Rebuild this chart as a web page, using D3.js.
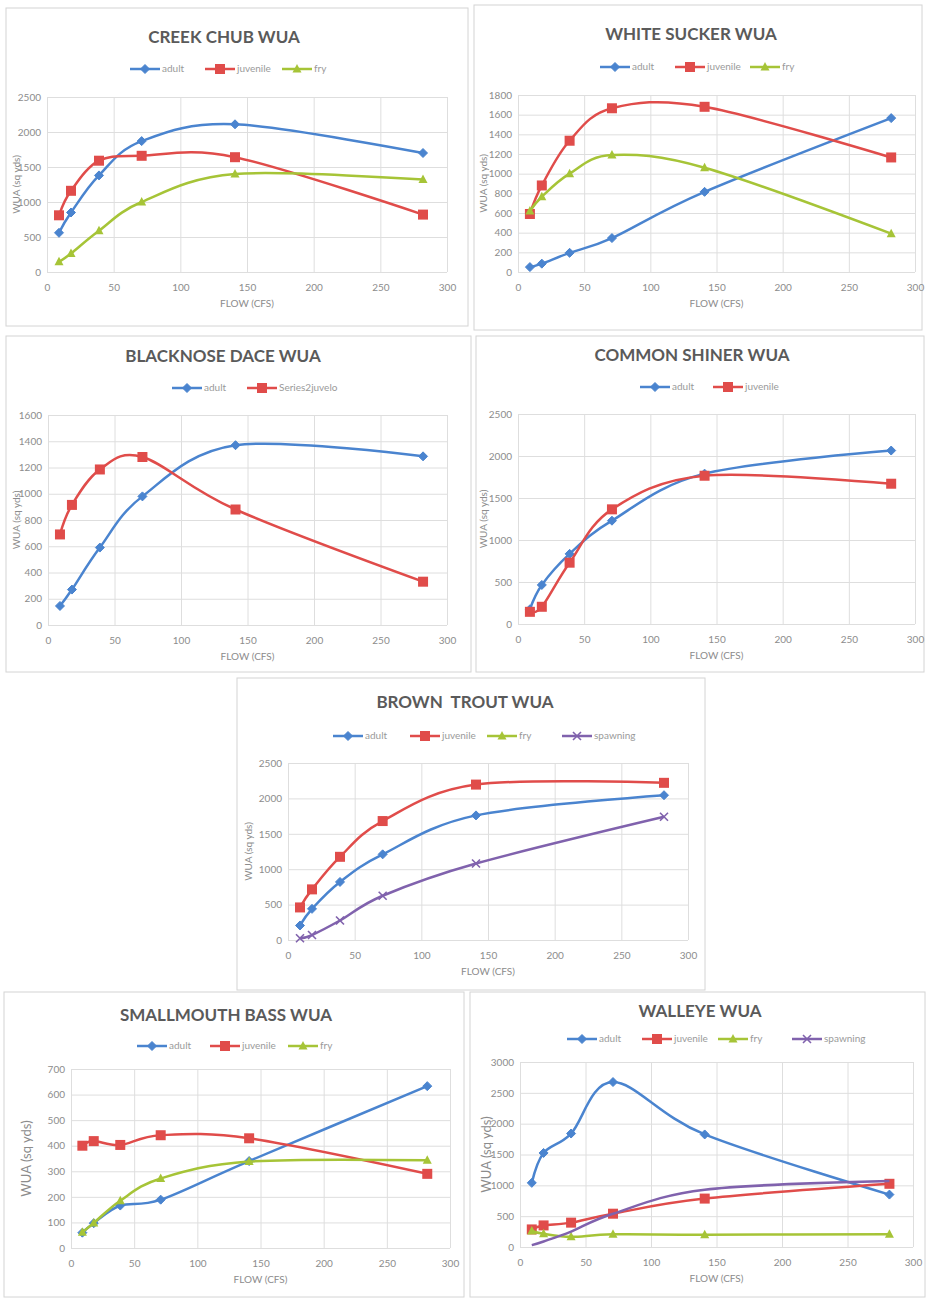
<!DOCTYPE html>
<html>
<head>
<meta charset="utf-8">
<script src="https://cdn.jsdelivr.net/npm/d3@7"></script>
<style>
  html, body { margin: 0; padding: 0; background: #fff; }
  svg { display: block; }
  text { font-family: Lato, "Open Sans", sans-serif; }
</style>
</head>
<body>
<svg id="chart" width="927" height="1300"></svg>
<script>
// Flow values (cfs) shared by every curve
const flow = [9, 18, 39, 71, 141, 282];
const xTicks = [0, 50, 100, 150, 200, 250, 300];

// Weighted usable area (sq yds) per species and life stage
const creekChubAdult    = [560, 850, 1380, 1870, 2110, 1700];
const creekChubJuvenile = [810, 1160, 1590, 1660, 1640, 820];
const creekChubFry      = [145, 265, 590, 1000, 1400, 1320];

const whiteSuckerAdult    = [50, 85, 195, 345, 815, 1565];
const whiteSuckerJuvenile = [590, 880, 1335, 1665, 1680, 1165];
const whiteSuckerFry      = [620, 765, 1000, 1190, 1060, 390];

const blacknoseDaceAdult    = [145, 270, 590, 980, 1370, 1285];
const blacknoseDaceJuvenile = [690, 915, 1185, 1280, 880, 330];

const commonShinerAdult    = [175, 465, 835, 1230, 1790, 2065];
const commonShinerJuvenile = [145, 205, 730, 1365, 1765, 1670];

const brownTroutAdult    = [205, 440, 820, 1210, 1760, 2045];
const brownTroutJuvenile = [460, 715, 1175, 1680, 2195, 2220];
const brownTroutFry      = [];
const brownTroutSpawning = [25, 70, 275, 625, 1080, 1740];

const smallmouthAdult    = [60, 97, 166, 189, 340, 633];
const smallmouthJuvenile = [400, 418, 403, 441, 429, 290];
const smallmouthFry      = [62, 98, 185, 272, 338, 343];

const walleyeAdult    = [1040, 1525, 1840, 2675, 1825, 850];
const walleyeJuvenile = [285, 350, 395, 540, 785, 1025];
const walleyeFry      = [260, 215, 165, 205, 200, 205];
const walleyeSpawning = [30, 90, 250, 540, 930, 1070];

// Y-axis ranges
const creekChubYTicks    = [0, 500, 1000, 1500, 2000, 2500];
const whiteSuckerYTicks  = [0, 200, 400, 600, 800, 1000, 1200, 1400, 1600, 1800];
const blacknoseYTicks    = [0, 200, 400, 600, 800, 1000, 1200, 1400, 1600];
const commonShinerYTicks = [0, 500, 1000, 1500, 2000, 2500];
const brownTroutYTicks   = [0, 500, 1000, 1500, 2000, 2500];
const smallmouthYTicks   = [0, 100, 200, 300, 400, 500, 600, 700];
const walleyeYTicks      = [0, 500, 1000, 1500, 2000, 2500, 3000];

// Life-stage styling
const stageStyle = {
  adult:    { color: "#4a84cf", marker: "diamond" },
  juvenile: { color: "#e04c4a", marker: "square" },
  fry:      { color: "#a6c437", marker: "triangle" },
  spawning: { color: "#8062ad", marker: "cross" }
};

// Panel layout: frame box, plot box [left, top, right, bottom], title and legend positions
const panels = [
  { title: "CREEK CHUB WUA", frame: [6, 8, 462, 318], plot: [47, 97, 447, 272],
    yTicks: creekChubYTicks, titleAt: [224, 43], legendY: 69, legendX: [130, 205, 282],
    yLabelX: 17, yLabelSize: 10,
    series: [["adult", "adult", creekChubAdult], ["juvenile", "juvenile", creekChubJuvenile], ["fry", "fry", creekChubFry]] },
  { title: "WHITE SUCKER WUA", frame: [474, 5, 448, 325], plot: [518, 95, 915, 272],
    yTicks: whiteSuckerYTicks, titleAt: [691, 40], legendY: 67, legendX: [600, 675, 750],
    yLabelX: 484, yLabelSize: 10,
    series: [["adult", "adult", whiteSuckerAdult], ["juvenile", "juvenile", whiteSuckerJuvenile], ["fry", "fry", whiteSuckerFry]] },
  { title: "BLACKNOSE DACE WUA", frame: [6, 336, 465, 336], plot: [48, 415, 447, 625],
    yTicks: blacknoseYTicks, titleAt: [223, 362], legendY: 388, legendX: [172, 247],
    yLabelX: 17, yLabelSize: 10,
    series: [["adult", "adult", blacknoseDaceAdult], ["Series2juvelo", "juvenile", blacknoseDaceJuvenile]] },
  { title: "COMMON SHINER WUA", frame: [476, 336, 448, 336], plot: [518, 414, 915, 624],
    yTicks: commonShinerYTicks, titleAt: [692, 361], legendY: 387, legendX: [640, 713],
    yLabelX: 484, yLabelSize: 10,
    series: [["adult", "adult", commonShinerAdult], ["juvenile", "juvenile", commonShinerJuvenile]] },
  { title: "BROWN  TROUT WUA", frame: [237, 678, 468, 312], plot: [288, 763, 688, 940],
    yTicks: brownTroutYTicks, titleAt: [465, 708], legendY: 736, legendX: [333, 410, 487, 562],
    yLabelX: 249, yLabelSize: 10,
    series: [["adult", "adult", brownTroutAdult], ["juvenile", "juvenile", brownTroutJuvenile],
             ["fry", "fry", brownTroutFry], ["spawning", "spawning", brownTroutSpawning]] },
  { title: "SMALLMOUTH BASS WUA", frame: [4, 992, 460, 305], plot: [71, 1069, 450, 1248],
    yTicks: smallmouthYTicks, titleAt: [226, 1021], legendY: 1046, legendX: [137, 210, 288],
    yLabelX: 28, yLabelSize: 13,
    series: [["adult", "adult", smallmouthAdult], ["juvenile", "juvenile", smallmouthJuvenile], ["fry", "fry", smallmouthFry]] },
  { title: "WALLEYE WUA", frame: [470, 992, 455, 305], plot: [520, 1062, 913, 1247],
    yTicks: walleyeYTicks, titleAt: [700, 1017], legendY: 1039, legendX: [567, 642, 718, 792],
    yLabelX: 488, yLabelSize: 13, noMarkers: ["spawning"],
    series: [["adult", "adult", walleyeAdult], ["juvenile", "juvenile", walleyeJuvenile],
             ["fry", "fry", walleyeFry], ["spawning", "spawning", walleyeSpawning]] }
];

const svg = d3.select("#chart");

function drawMarker(g, kind, x, y, color) {
  if (kind === "diamond") {
    g.append("path").attr("d", `M${x},${y - 4.5}L${x + 4.5},${y}L${x},${y + 4.5}L${x - 4.5},${y}Z`)
      .attr("fill", color).attr("stroke", color).attr("stroke-width", 1);
  } else if (kind === "square") {
    g.append("rect").attr("x", x - 5).attr("y", y - 5).attr("width", 10).attr("height", 10)
      .attr("fill", color);
  } else if (kind === "triangle") {
    g.append("path").attr("d", `M${x},${y - 5}L${x + 4.5},${y + 3.5}L${x - 4.5},${y + 3.5}Z`)
      .attr("fill", color);
  } else if (kind === "cross") {
    g.append("path").attr("d", `M${x - 4},${y - 4}L${x + 4},${y + 4}M${x - 4},${y + 4}L${x + 4},${y - 4}`)
      .attr("stroke", color).attr("stroke-width", 1.6).attr("fill", "none");
  }
}

panels.forEach(p => {
  const g = svg.append("g");
  const [fx, fy, fw, fh] = p.frame;
  g.append("rect").attr("x", fx).attr("y", fy).attr("width", fw).attr("height", fh)
    .attr("fill", "#fff").attr("stroke", "#d4d4d4").attr("stroke-width", 1);

  const [left, top, right, bottom] = p.plot;
  const yMax = p.yTicks[p.yTicks.length - 1];
  const x = d3.scaleLinear().domain([0, 300]).range([left, right]);
  const y = d3.scaleLinear().domain([0, yMax]).range([bottom, top]);

  // Gridlines
  g.append("g").attr("transform", `translate(0,${bottom})`)
    .call(d3.axisBottom(x).tickValues(xTicks).tickSize(-(bottom - top)).tickFormat(""))
    .call(a => a.select(".domain").remove())
    .call(a => a.selectAll("line").attr("stroke", "#dedede"));
  g.append("g").attr("transform", `translate(${left},0)`)
    .call(d3.axisLeft(y).tickValues(p.yTicks).tickSize(-(right - left)).tickFormat(""))
    .call(a => a.select(".domain").remove())
    .call(a => a.selectAll("line").attr("stroke", "#dedede"));

  // Tick labels
  g.append("g").attr("transform", `translate(0,${bottom})`)
    .call(d3.axisBottom(x).tickValues(xTicks).tickSize(0).tickPadding(12).tickFormat(d3.format("d")))
    .call(a => a.select(".domain").remove())
    .call(a => a.selectAll("text").attr("fill", "#8c8c8c").style("font-size", "10px")
      .style("font-family", "Lato, sans-serif"));
  g.append("g").attr("transform", `translate(${left},0)`)
    .call(d3.axisLeft(y).tickValues(p.yTicks).tickSize(0).tickPadding(6).tickFormat(d3.format("d")))
    .call(a => a.select(".domain").remove())
    .call(a => a.selectAll("text").attr("fill", "#8c8c8c").style("font-size", "10px")
      .style("font-family", "Lato, sans-serif"));

  // Titles
  g.append("text").attr("x", p.titleAt[0]).attr("y", p.titleAt[1]).attr("text-anchor", "middle")
    .attr("fill", "#5a5a5a").style("font-size", "17px").style("font-weight", "bold")
    .style("white-space", "pre").text(p.title);
  g.append("text").attr("x", (left + right) / 2).attr("y", bottom + 35).attr("text-anchor", "middle")
    .attr("fill", "#8c8c8c").style("font-size", "10px").text("FLOW (CFS)");
  g.append("text")
    .attr("transform", `translate(${p.yLabelX},${(top + bottom) / 2}) rotate(-90)`)
    .attr("text-anchor", "middle").attr("dominant-baseline", "middle")
    .attr("fill", "#8c8c8c").style("font-size", p.yLabelSize + "px").text("WUA (sq yds)");

  // Smoothed curves with markers
  const line = d3.line().x(d => x(d[0])).y(d => y(d[1])).curve(d3.curveCardinal.tension(0));
  p.series.forEach(([name, stage, values]) => {
    const st = stageStyle[stage];
    const pts = values.map((v, i) => [flow[i], v]);
    if (pts.length) {
      g.append("path").datum(pts).attr("d", line).attr("fill", "none")
        .attr("stroke", st.color).attr("stroke-width", 2.5).attr("stroke-linejoin", "round");
      if (!(p.noMarkers || []).includes(stage)) {
        pts.forEach(d => drawMarker(g, st.marker, x(d[0]), y(d[1]), st.color));
      }
    }
  });

  // Legend
  p.series.forEach(([name, stage], i) => {
    const st = stageStyle[stage];
    const lx = p.legendX[i], ly = p.legendY;
    g.append("line").attr("x1", lx).attr("x2", lx + 30).attr("y1", ly).attr("y2", ly)
      .attr("stroke", st.color).attr("stroke-width", 2.5);
    drawMarker(g, st.marker, lx + 15, ly, st.color);
    g.append("text").attr("x", lx + 32).attr("y", ly).attr("dominant-baseline", "middle")
      .attr("fill", "#9a9a9a").style("font-size", "10px").text(name);
  });
});
</script>
</body>
</html>
